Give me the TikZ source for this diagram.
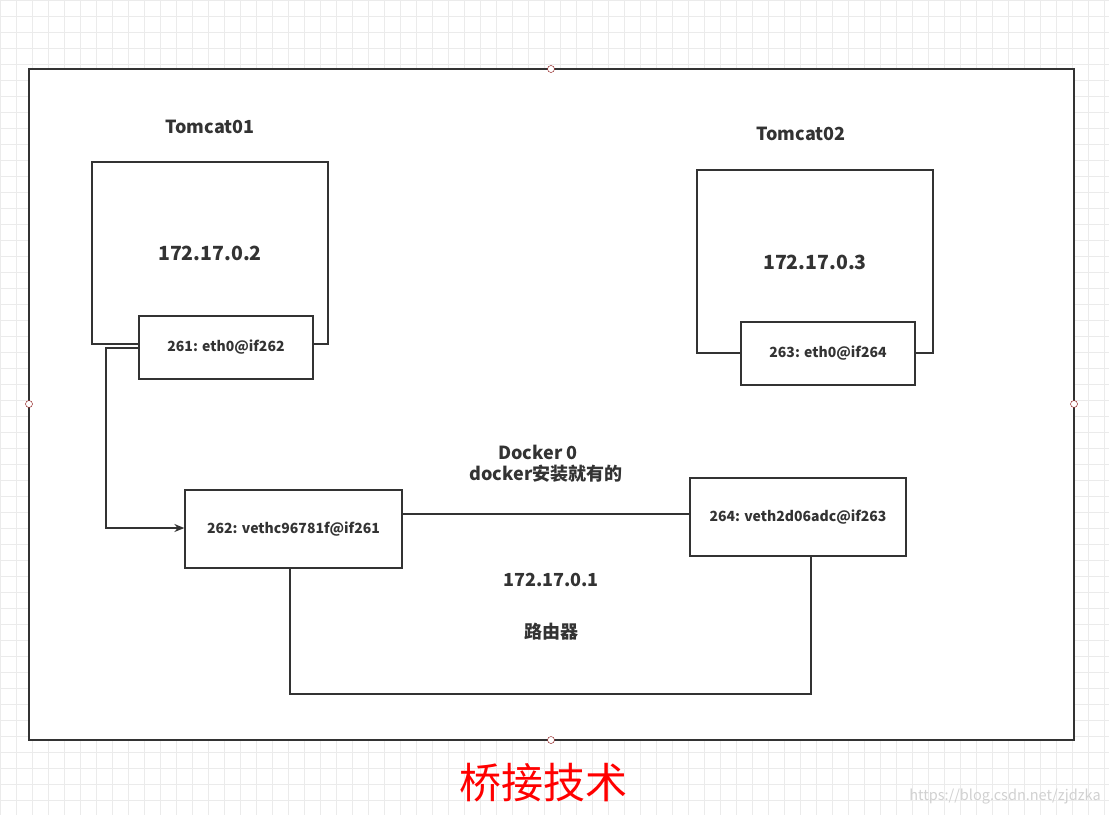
\documentclass[tikz,border=0pt]{standalone}
\usepackage{fontspec}
\setmainfont{Noto Sans CJK SC}
\usetikzlibrary{arrows.meta}
\begin{document}
\begin{tikzpicture}[x=1pt,y=-1pt,
  box/.style={draw=black!80,line width=1.3pt,fill=white},
  lbl/.style={font=\bfseries\fontsize{18}{21}\selectfont,text=black!80},
  big/.style={font=\bfseries\fontsize{19.5}{23}\selectfont,text=black!80},
  small/.style={font=\bfseries\fontsize{14}{16}\selectfont,text=black!80},
  wire/.style={draw=black!80,line width=1.3pt},
  handle/.style={circle,draw=red!50!black,fill=white,inner sep=0pt,minimum size=7pt}]
\useasboundingbox (0,0) rectangle (1109,815);
\fill[white] (0,0) rectangle (1109,815);
\foreach \i in {0,16,...,1109} \draw[black!8,line width=0.6pt] (\i,0) -- (\i,815);
\foreach \j in {0,16,...,815} \draw[black!8,line width=0.6pt] (0,\j) -- (1109,\j);
\draw[box] (29,69) rectangle (1074,740);
\node[handle] (h1) at (551,69) {};
\node[handle] (h2) at (29,404) {};
\node[handle] (h3) at (1074,404) {};
\node[handle] (h4) at (551,740) {};
\node[lbl] (t1) at (210,127) {Tomcat01};
\draw[box] (92,162) rectangle (328,344);
\node[big] (ip2) at (210,253) {172.17.0.2};
\node[box,small,minimum width=174pt,minimum height=63pt] (e1) at (226,347.5) {261: eth0@if262};
\node[lbl] (t2) at (801,134) {Tomcat02};
\draw[box] (697,170) rectangle (933,353);
\node[big] (ip3) at (815,262) {172.17.0.3};
\node[box,small,minimum width=174pt,minimum height=63pt] (e2) at (828,353.5) {263: eth0@if264};
\node[lbl] (d0) at (538,452) {Docker 0};
\node[lbl] (d1) at (546,474) {docker安装就有的};
\node[box,small,minimum width=217pt,minimum height=78pt] (v1) at (293.5,529) {262: vethc96781f@if261};
\node[box,small,minimum width=216pt,minimum height=78pt] (v2) at (798,517) {264: veth2d06adc@if263};
\draw[wire] (v1.east |- 0,514) -- (v2.west |- 0,514);
\node[lbl] (r1) at (551,580) {172.17.0.1};
\node[lbl] (r2) at (551,632) {路由器};
\draw[wire] (v1.south -| 290,0) -- (290,694) -- (811,694) -- (v2.south -| 811,0);
\draw[wire,-{Stealth[length=10pt,width=8pt]}] (e1.west |- 0,348) -- (106,348) -- (106,528) -- (v1.west |- 0,528);
\node[font=\fontsize{42}{46}\selectfont,text=red] (title) at (543,783) {桥接技术};
\node[font=\fontsize{14.5}{16}\selectfont,text=black!18] (wm) at (1005,797) {https://blog.csdn.net/zjdzka};
\end{tikzpicture}
\end{document}
